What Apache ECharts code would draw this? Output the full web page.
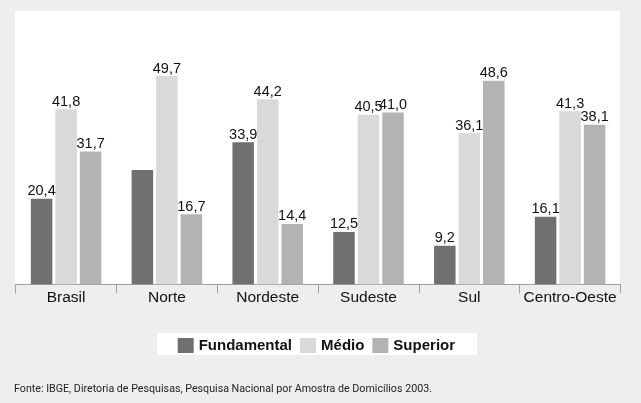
<!DOCTYPE html>
<html><head><meta charset="utf-8">
<script src="https://cdn.jsdelivr.net/npm/echarts@6/dist/echarts.min.js"></script>
<style>html,body{margin:0;padding:0;background:#eeeeee}#c{width:641px;height:403px}</style>
</head><body><div id="c"></div>
<script>
const categories = ['Brasil', 'Norte', 'Nordeste', 'Sudeste', 'Sul', 'Centro-Oeste'];
const fundamental = [20.4, 27.3, 33.9, 12.5, 9.2, 16.1];
const medio = [41.8, 49.7, 44.2, 40.5, 36.1, 41.3];
const superior = [31.7, 16.7, 14.4, 41.0, 48.6, 38.1];
const hiddenLabels = { Fundamental: [1] };
const seriesNames = ['Fundamental', 'Médio', 'Superior'];
const colors = ['#707070', '#d9d9d9', '#b3b3b3'];
const footnote = 'Fonte: IBGE, Diretoria de Pesquisas, Pesquisa Nacional por Amostra de Domicílios 2003.';

const chart = echarts.init(document.getElementById('c'), null, { renderer: 'canvas' });
const fmt = v => v.toFixed(1).replace('.', ',');
function mk(name, vals, color) {
  const hide = hiddenLabels[name] || [];
  return {
    name, type: 'bar', barWidth: 21.5, barGap: '14%',
    itemStyle: { color },
    label: { show: true, position: 'top', distance: 0, color: '#111',
      fontFamily: 'Liberation Sans, Arial', fontSize: 14.5,
      formatter: p => hide.includes(p.dataIndex) ? '' : fmt(p.value) },
    data: vals
  };
}
chart.setOption({
  backgroundColor: '#eeeeee',
  animation: false,
  graphic: [
    { type: 'rect', z: -10, shape: { x: 15, y: 11, width: 605, height: 274 }, style: { fill: '#ffffff' } },
    { type: 'rect', z: -10, shape: { x: 157, y: 333, width: 320, height: 22 }, style: { fill: '#ffffff' } },
    { type: 'text', left: 14, top: 384, style: { text: footnote, fill: '#222', font: '10.7px Roboto' } }
  ],
  grid: { left: 15.7, right: 20.5, top: 12, bottom: 118.7, containLabel: false },
  xAxis: {
    type: 'category', data: categories,
    axisLine: { lineStyle: { color: '#a0a0a0', width: 1 } },
    axisTick: { show: true, length: 9, lineStyle: { color: '#a0a0a0' } },
    axisLabel: { interval: 0, color: '#111', fontFamily: 'Liberation Sans, Arial', fontSize: 15.5, margin: 5 }
  },
  yAxis: { type: 'value', min: 0, max: 65, show: false, splitLine: { show: false } },
  legend: {
    left: 177.7, top: 338, padding: 0, itemGap: 8, itemWidth: 16, itemHeight: 15,
    icon: 'rect',
    textStyle: { fontFamily: 'Liberation Sans, Arial', fontSize: 15, fontWeight: 'bold', color: '#111' },
    data: [
      { name: 'Fundamental' },
      { name: 'Médio', textStyle: { width: 67 } },
      { name: 'Superior' }
    ]
  },
  series: [mk(seriesNames[0], fundamental, colors[0]), mk(seriesNames[1], medio, colors[1]), mk(seriesNames[2], superior, colors[2])]
});
</script></body></html>
